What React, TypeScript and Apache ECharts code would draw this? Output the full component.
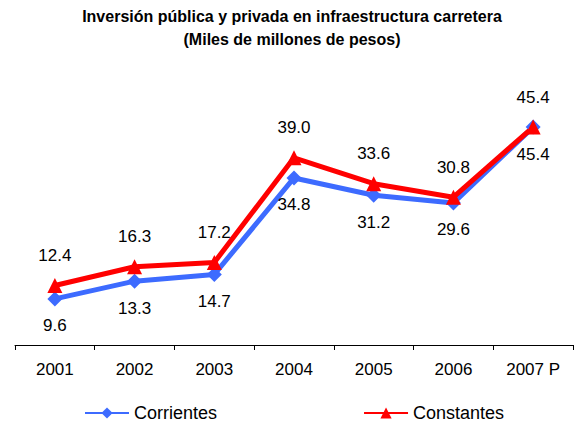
import React, { useEffect, useRef } from "react";
import * as echarts from "echarts";

const categories = ["2001", "2002", "2003", "2004", "2005", "2006", "2007 P"];
const corrientes = [9.6, 13.3, 14.7, 34.8, 31.2, 29.6, 45.4];
const constantes = [12.4, 16.3, 17.2, 39.0, 33.6, 30.8, 45.4];
const titleText = "Inversión pública y privada en infraestructura carretera\n(Miles de millones de pesos)";

const FONT = "Arial, 'Liberation Sans', sans-serif";

export default function App() {
  const ref = useRef<HTMLDivElement>(null);
  useEffect(() => {
    document.body.style.margin = "0";
    const chart = echarts.init(ref.current!, null, { renderer: "svg" });
    chart.setOption({
      animation: false,
      backgroundColor: "#ffffff",
      title: {
        text: titleText,
        left: 292,
        top: 5,
        padding: 0,
        textAlign: "center",
        textStyle: { fontFamily: FONT, fontSize: 16, fontWeight: "bold", color: "#000", lineHeight: 23 },
      },
      legend: {
        left: 84,
        top: 404,
        padding: 0,
        itemWidth: 44,
        itemHeight: 14,
        itemGap: 146,
        textStyle: { fontFamily: FONT, fontSize: 18, color: "#000" },
        data: ["Corrientes", "Constantes"],
      },
      grid: { left: 15, right: 2, top: 105, bottom: 82, containLabel: false },
      xAxis: {
        type: "category",
        data: categories,
        boundaryGap: true,
        axisLine: { lineStyle: { color: "#000", width: 1 } },
        axisTick: { show: true, length: 5, inside: false, lineStyle: { color: "#000" } },
        axisLabel: { fontFamily: FONT, fontSize: 17, color: "#000", margin: 16 },
      },
      yAxis: { type: "value", min: 0, max: 50, show: false, splitLine: { show: false } },
      series: [
        {
          name: "Corrientes",
          type: "line",
          data: corrientes,
          color: "#3D6BFF",
          lineStyle: { width: 5, color: "#3D6BFF" },
          symbol: "diamond",
          symbolSize: 15,
          itemStyle: { color: "#3D6BFF" },
          label: {
            show: true,
            position: "bottom",
            distance: 11,
            formatter: (p: any) => Number(p.value).toFixed(1),
            fontFamily: FONT,
            fontSize: 17,
            color: "#000",
          },
        },
        {
          name: "Constantes",
          type: "line",
          data: constantes,
          color: "#FF0000",
          lineStyle: { width: 5, color: "#FF0000" },
          symbol: "triangle",
          symbolSize: 15,
          itemStyle: { color: "#FF0000" },
          label: {
            show: true,
            position: "top",
            distance: 14,
            formatter: (p: any) => Number(p.value).toFixed(1),
            fontFamily: FONT,
            fontSize: 17,
            color: "#000",
          },
        },
      ],
    });
    return () => chart.dispose();
  }, []);
  return <div ref={ref} style={{ width: 575, height: 427 }} />;
}
